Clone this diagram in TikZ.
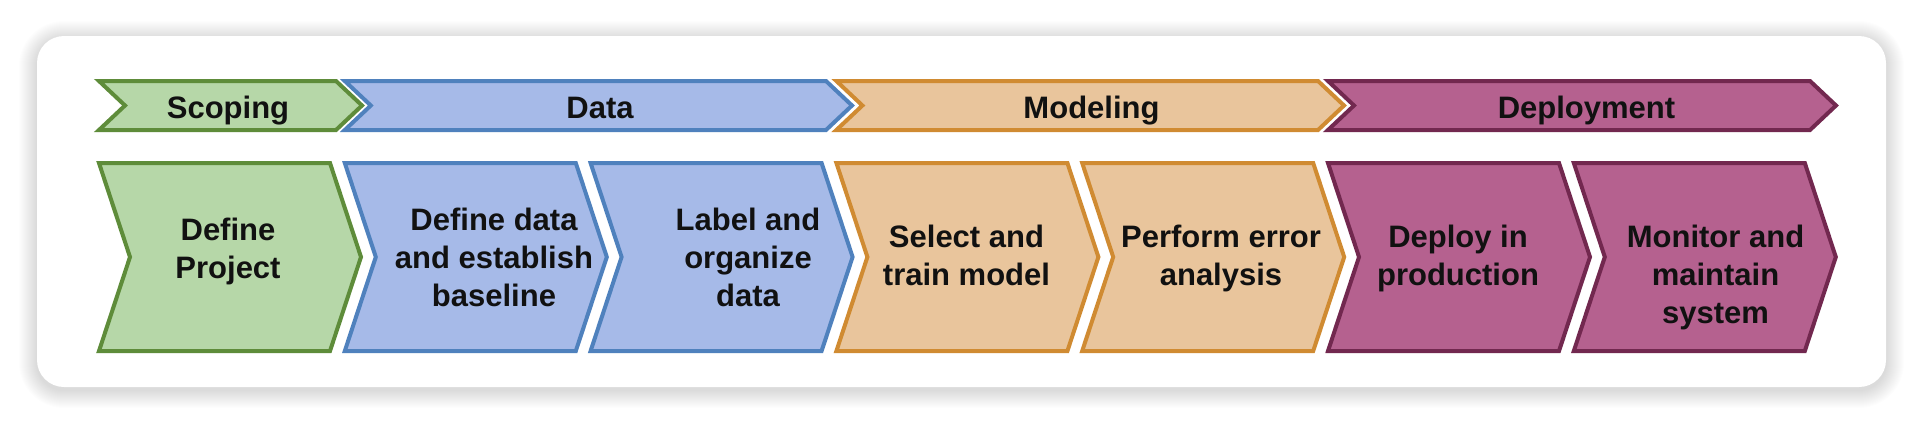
\documentclass[tikz,border=0pt]{standalone}
\usepackage{fontspec}
\setmainfont{Liberation Sans}
\definecolor{gfill}{HTML}{B6D7A8}
\definecolor{gline}{HTML}{5E8C3A}
\definecolor{bfill}{HTML}{A6BAE8}
\definecolor{bline}{HTML}{4F81BD}
\definecolor{ofill}{HTML}{E9C59C}
\definecolor{oline}{HTML}{D08B32}
\definecolor{pfill}{HTML}{B5618F}
\definecolor{pline}{HTML}{72284F}
\definecolor{txt}{HTML}{111111}
\newcommand\chevron[6]{%
  \draw[#6] (#1,#2) -- (#3,#2) -- ({#3+#5},{(#2+#4)/2}) -- (#3,#4) -- (#1,#4) -- ({#1+#5},{(#2+#4)/2}) -- cycle;}
\begin{document}
\begin{tikzpicture}[x=1pt,y=-1pt,
  shp/.style={line width=4pt,line join=miter},
  green/.style={shp,fill=gfill,draw=gline},
  blue/.style={shp,fill=bfill,draw=bline},
  orange/.style={shp,fill=ofill,draw=oline},
  purple/.style={shp,fill=pfill,draw=pline},
  lbl/.style={inner sep=0pt,text=txt,align=center,font=\fontsize{31}{38}\selectfont\bfseries}]
\useasboundingbox (0,0) rectangle (1922,424);
\fill[white] (0,0) rectangle (1922,424);
% card shadow
\foreach \i in {1,...,18}{
  \pgfmathsetmacro\rr{27+\i}
  \fill[black,opacity=0.008,rounded corners=\rr pt] (37-\i,36-\i+3) rectangle (1886+\i,387+\i+3);
}
\fill[white,rounded corners=27pt] (37,36) rectangle (1886,387);
% top row
\chevron{99}{81}{336}{130}{26}{green}
\chevron{344.8}{81}{826}{130}{26}{blue}
\chevron{836.4}{81}{1318}{130}{26}{orange}
\chevron{1328}{81}{1810}{130}{26}{purple}
% bottom row
\chevron{99}{163}{330}{351}{31}{green}
\chevron{344.8}{163}{575.8}{351}{31}{blue}
\chevron{590.6}{163}{821.6}{351}{31}{blue}
\chevron{836.4}{163}{1067.4}{351}{31}{orange}
\chevron{1082.2}{163}{1313.2}{351}{31}{orange}
\chevron{1328}{163}{1559}{351}{31}{purple}
\chevron{1573.8}{163}{1804.8}{351}{31}{purple}
% top labels
\node[lbl,anchor=base] (scoping) at (228,118) {Scoping};
\node[lbl,anchor=base] (data) at (600,118) {Data};
\node[lbl,anchor=base] (modeling) at (1091.5,118) {Modeling};
\node[lbl,anchor=base] (deployment) at (1586.5,118) {Deployment};
% bottom labels (anchor = baseline of last line)
\node[lbl,anchor=base] (s1) at (228,278.5) {Define\\Project};
\node[lbl,anchor=base] (s2) at (494,306.5) {Define data\\and establish\\baseline};
\node[lbl,anchor=base] (s3) at (748,306.5) {Label and\\organize\\data};
\node[lbl,anchor=base] (s4) at (966.5,285) {Select and\\train model};
\node[lbl,anchor=base] (s5) at (1221,285) {Perform error\\analysis};
\node[lbl,anchor=base] (s6) at (1458,285) {Deploy in\\production};
\node[lbl,anchor=base] (s7) at (1715.5,323) {Monitor and\\maintain\\system};
\end{tikzpicture}
\end{document}
